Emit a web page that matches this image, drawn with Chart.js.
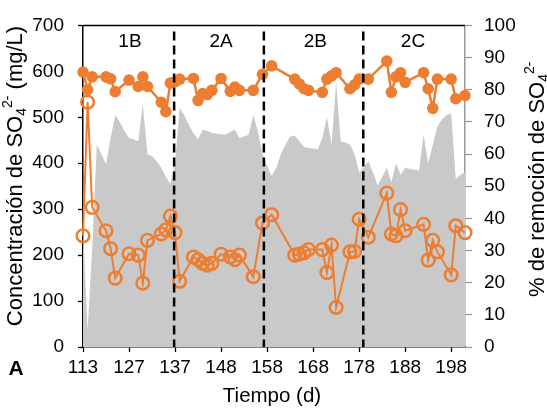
<!DOCTYPE html>
<html>
<head>
<meta charset="utf-8">
<script src="https://cdn.jsdelivr.net/npm/chart.js@4.4.1/dist/chart.umd.min.js"></script>
<style>
  body { margin: 0; background: #fff; }
  canvas { display: block; }
</style>
</head>
<body>
<canvas id="chart" width="547" height="415"></canvas>
<script>
// Sampling days (category axis); only every 10th one gets a label
const dayLabels = [
    113, 114, 115, 117, 118, 120, 121, 122, 124, 125,
    127, 128, 129, 130, 131, 132, 133, 134, 135, 136,
    137, 138, 139, 140, 141, 142, 143, 145, 146, 147,
    148, 149, 150, 151, 152, 153, 154, 155, 156, 157,
    158, 159, 160, 161, 162, 163, 164, 165, 166, 167,
    168, 169, 170, 171, 172, 173, 174, 175, 176, 177,
    178, 179, 180, 181, 182, 183, 184, 185, 186, 187,
    188, 189, 190, 191, 192, 193, 194, 195, 196, 197,
    198, 199, 200, 201
];

// Influent sulfate (mg/L), grey area
const influentSO4 = [
    260, 36, 216, 441, 420, 398, 455, 505, 490, 470,
    455, 452, 448, 530, 420, 415, 405, 390, 370, 355,
    400, 520, 505, 484, 465, 452, 473, 470, 466, 464,
    463, 462, 468, 473, 455, 458, 462, 505, 470, 420,
    395, 372, 390, 420, 440, 458, 460, 448, 436, 433,
    432, 430, 455, 500, 441, 576, 448, 445, 441, 420,
    380, 391, 405, 380, 352, 370, 390, 358, 400, 375,
    390, 388, 386, 384, 462, 400, 440, 480, 495, 505,
    509, 365, 375, 380
];

// Effluent sulfate (mg/L), open circles
const effluentSO4 = [
    242, 533, 304, null, null, 253, 214, 150, null, null,
    203, null, 200, 139, 232, null, null, 246, 255, 285,
    249, 143, null, null, 196, 190, 182, 178, 182, null,
    202, null, 196, 190, 200, null, null, 153, null, 270,
    null, 288, null, null, null, null, 200, 202, 205, 212,
    null, null, 212, 162, 222, 86, null, null, 207, 208,
    278, null, 239, null, null, null, 335, 246, 242, 299,
    253, null, null, null, 267, 189, 232, 207, null, null,
    157, 264, null, 249
];

// Sulfate removal (%), filled circles on the right axis
const removalPct = [
    85.5, 80.0, 84.0, null, null, 84.0, 83.4, 79.4, null, null,
    83.0, null, 81.0, 84.0, 81.0, null, null, 76.1, 73.2, 82.1,
    82.5, 83.3, null, null, 83.5, 76.7, 78.8, 78.5, 79.8, null,
    83.5, null, 79.5, 80.8, 79.8, null, null, 79.8, null, 84.8,
    null, 87.4, null, null, null, null, 83.3, 81.8, 80.3, 79.8,
    null, null, 79.2, 83.3, 84.3, 85.3, null, null, 80.3, 81.5,
    83.3, null, 83.3, null, null, null, 88.9, 79.2, 84.0, 85.3,
    82.3, null, null, null, 85.3, 80.3, 74.2, 83.3, null, null,
    83.3, 77.2, null, 78.2
];

// Operating phases: boundaries and label positions (category index)
const phaseBreaks = [19.8, 39.3, 60.9];
const phaseNames = ['1B', '2A', '2B', '2C'];
const phaseCenters = [10.2, 30.0, 50.5, 71.7];

const FONT = '"Liberation Sans", Arial, sans-serif';
const ORANGE = '#ED7D31';

// draws a text run made of pieces (for sub/superscripts), optionally rotated
function drawRich(ctx, parts, x, y, angle, align) {
    ctx.save();
    ctx.translate(x, y);
    ctx.rotate(angle);
    let total = 0;
    parts.forEach(p => {
        ctx.font = (p.bold ? 'bold ' : '') + p.size + 'px ' + FONT;
        p.w = ctx.measureText(p.text).width;
        total += p.w;
    });
    let cx = align === 'start' ? 0 : -total / 2;
    ctx.fillStyle = '#000';
    ctx.textBaseline = 'middle';
    ctx.textAlign = 'left';
    parts.forEach(p => {
        ctx.font = (p.bold ? 'bold ' : '') + p.size + 'px ' + FONT;
        ctx.fillText(p.text, cx, p.shift || 0);
        cx += p.w;
    });
    ctx.restore();
}

const decorations = {
    id: 'decorations',
    afterDatasetsDraw(chart) {
        const ctx = chart.ctx;
        const area = chart.chartArea;
        const x = chart.scales.x;

        // phase separators
        ctx.save();
        ctx.strokeStyle = '#000';
        ctx.lineWidth = 2.5;
        ctx.setLineDash([9, 5]);
        phaseBreaks.forEach(b => {
            const px = x.getPixelForValue(b);
            ctx.beginPath();
            ctx.moveTo(px, area.top + 6);
            ctx.lineTo(px, area.bottom);
            ctx.stroke();
        });
        ctx.restore();

        // top frame line
        ctx.save();
        ctx.strokeStyle = '#000';
        ctx.lineWidth = 1.5;
        ctx.beginPath();
        ctx.moveTo(area.left, area.top);
        ctx.lineTo(area.right, area.top);
        ctx.stroke();
        ctx.restore();

        // phase names
        ctx.save();
        ctx.fillStyle = '#000';
        ctx.font = '19px ' + FONT;
        ctx.textAlign = 'center';
        ctx.textBaseline = 'middle';
        phaseNames.forEach((n, i) => {
            ctx.fillText(n, x.getPixelForValue(phaseCenters[i]), 42);
        });
        ctx.restore();
    },
    afterDraw(chart) {
        const ctx = chart.ctx;
        drawRich(ctx, [
            { text: 'Concentración de SO', size: 22 },
            { text: '4', size: 14, shift: 6 },
            { text: '2-', size: 14, shift: -8 },
            { text: ' (mg/L)', size: 22 }
        ], 16, 176, -Math.PI / 2);
        drawRich(ctx, [
            { text: '% de remoción de SO', size: 22 },
            { text: '4', size: 14, shift: 6 },
            { text: '2-', size: 14, shift: -8 }
        ], 538, 297, -Math.PI / 2, 'start');
        drawRich(ctx, [{ text: 'Tiempo (d)', size: 20.5 }], 272, 396, 0);
        drawRich(ctx, [{ text: 'A', size: 21, bold: true }], 16, 369, 0);
    }
};

const tickFont = { family: FONT, size: 19 };

new Chart(document.getElementById('chart'), {
    type: 'line',
    data: {
        labels: dayLabels,
        datasets: [
            {
                label: 'Remoción',
                data: removalPct,
                yAxisID: 'y2',
                order: 1,
                borderColor: ORANGE,
                borderWidth: 2.5,
                pointRadius: 5.8,
                pointBackgroundColor: ORANGE,
                pointBorderColor: ORANGE,
                pointBorderWidth: 0,
                spanGaps: true,
                fill: false,
                tension: 0
            },
            {
                label: 'Efluente',
                data: effluentSO4,
                yAxisID: 'y',
                order: 2,
                borderColor: ORANGE,
                borderWidth: 2,
                pointRadius: 6.3,
                pointBackgroundColor: 'rgba(0,0,0,0)',
                pointBorderColor: ORANGE,
                pointBorderWidth: 2.5,
                spanGaps: true,
                fill: false,
                tension: 0
            },
            {
                label: 'Afluente',
                data: influentSO4,
                yAxisID: 'y',
                order: 3,
                borderWidth: 0,
                borderColor: 'rgba(0,0,0,0)',
                backgroundColor: '#C9C9C9',
                pointRadius: 0,
                fill: 'origin',
                tension: 0
            }
        ]
    },
    options: {
        responsive: false,
        animation: false,
        layout: { padding: { top: 18, left: 0, right: 0, bottom: 0 } },
        plugins: {
            legend: { display: false },
            tooltip: { enabled: false }
        },
        scales: {
            x: {
                type: 'category',
                offset: false,
                border: { color: '#000', width: 1.5 },
                grid: {
                    drawOnChartArea: false,
                    tickLength: 5,
                    tickWidth: 1.3,
                    tickColor: c => (c.index % 10 === 0 ? '#000' : 'rgba(0,0,0,0)')
                },
                ticks: {
                    autoSkip: false,
                    maxRotation: 0,
                    minRotation: 0,
                    padding: 4,
                    color: '#000',
                    font: tickFont,
                    callback: (v, i) => (i % 10 === 0 ? String(dayLabels[i]) : '')
                },
                afterFit: s => { s.height = 68; }
            },
            y: {
                position: 'left',
                min: 0,
                max: 700,
                border: { color: '#000', width: 1.5 },
                grid: { drawOnChartArea: false, tickLength: 5, tickColor: '#000', tickWidth: 1.3 },
                ticks: { stepSize: 100, padding: 14, color: '#000', font: tickFont },
                afterFit: s => { s.width = 83; }
            },
            y2: {
                position: 'right',
                min: 0,
                max: 100,
                border: { color: '#9a9a9a', width: 1.5 },
                grid: { drawOnChartArea: false, tickLength: 7, tickColor: '#9a9a9a', tickWidth: 1.3 },
                ticks: { stepSize: 10, padding: 12, color: '#000', font: tickFont },
                afterFit: s => { s.width = 82; }
            }
        }
    },
    plugins: [decorations]
});
</script>
</body>
</html>
